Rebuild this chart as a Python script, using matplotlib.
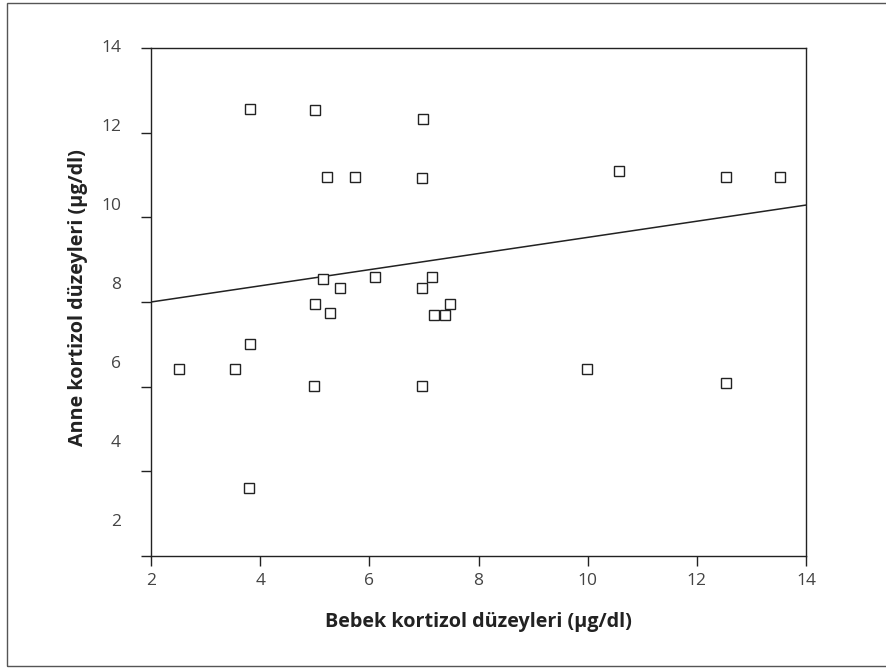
import numpy as np
import matplotlib
matplotlib.use("Agg")
import matplotlib.pyplot as plt
from matplotlib.patches import Rectangle

plt.rcParams['font.family'] = ['Open Sans', 'DejaVu Sans']

# bebek (x) / anne (y) kortizol
bebek = [3.82, 5.00, 6.98, 5.23, 5.73, 6.97, 10.57, 12.54, 13.52,
         5.15, 5.46, 6.10, 7.14, 6.97, 5.00, 5.28, 7.48, 7.19, 7.39,
         3.82, 2.52, 3.54, 4.99, 6.97, 9.98, 12.54, 3.80]
anne = [12.56, 12.54, 12.32, 10.96, 10.95, 10.92, 11.10, 10.95, 10.95,
        8.54, 8.32, 8.59, 8.59, 8.32, 7.96, 7.74, 7.95, 7.69, 7.69,
        7.01, 6.42, 6.42, 6.02, 6.02, 6.41, 6.09, 3.60]

# regression line end points
fit_x = [2, 14]
fit_y = [8.00, 10.29]

ticks = [2, 4, 6, 8, 10, 12, 14]
tick_labels = ['2', '4', '6', '8', '10', '12', '14']

fig = plt.figure(figsize=(8.87, 6.68), dpi=100)
ax = fig.add_axes([151 / 887, 1 - 556 / 668, 655 / 887, 508 / 668])

# outer frame
fig.patches.append(Rectangle((7 / 887, 2 / 668), 1.0, 663 / 668,
                             transform=fig.transFigure, fill=False,
                             edgecolor='#555555', linewidth=1.0))

ax.plot(fit_x, fit_y, color='#222222', linewidth=1.1)
ax.plot(bebek, anne, linestyle='none', marker='s', markersize=6.5,
        markerfacecolor='white', markeredgecolor='#222222',
        markeredgewidth=1.0)

ax.set_xlim(2, 14)
ax.set_ylim(2, 14)

for s in ax.spines.values():
    s.set_color('#222222')
    s.set_linewidth(1.0)

ax.set_xticks(ticks)
ax.set_xticklabels(tick_labels)
ax.tick_params(axis='x', direction='out', length=7.2, width=1.0,
               color='#222222', labelcolor='#444444', labelsize=12.5, pad=5)

# y tick labels sit a little off their tick marks, as in the original
ax.set_yticks(ticks)
ax.set_yticklabels([])
ax.tick_params(axis='y', direction='out', length=7.2, width=1.0,
               color='#222222')
for v, lab in zip(ticks, tick_labels):
    pos = 14 - (14 - v) * 0.934
    ax.text(-30 / 655, pos, lab, transform=ax.get_yaxis_transform(),
            ha='right', va='center', fontsize=12.5, color='#444444')

fig.text(478 / 887, 1 - 622 / 668, 'Bebek kortizol düzeyleri (µg/dl)',
         ha='center', va='center', fontsize=14.2, fontweight='bold',
         color='#222222')
fig.text(78 / 887, 1 - 298 / 668, 'Anne kortizol düzeyleri (µg/dl)',
         ha='center', va='center', rotation=90, fontsize=14.2,
         fontweight='bold', color='#222222')

fig.savefig('out.png', dpi=100)
